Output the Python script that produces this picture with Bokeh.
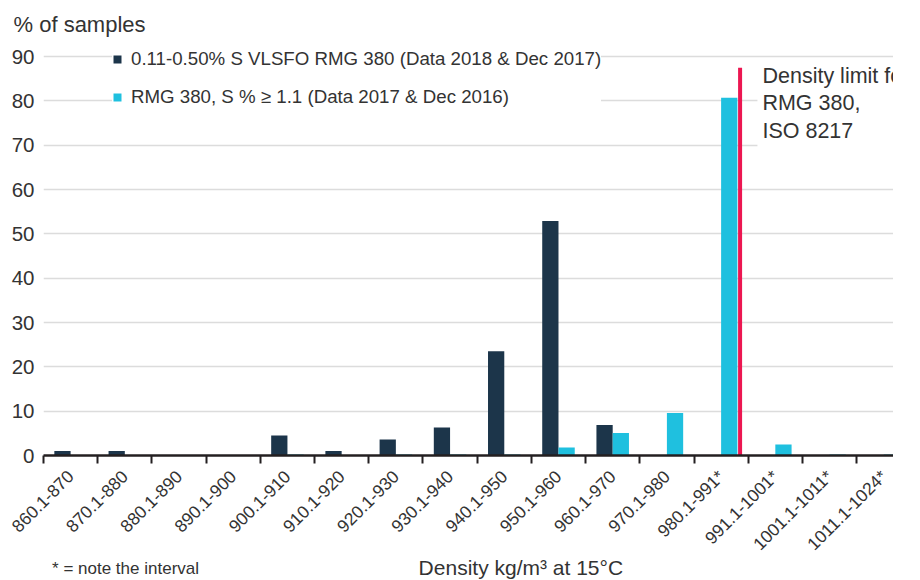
import math
from bokeh.plotting import figure
from bokeh.layouts import column
from bokeh.models import (ColumnDataSource, LinearAxis, FixedTicker, Grid, Label,
                          Legend, LegendItem, Range1d)
from bokeh.transform import dodge
from bokeh.embed import file_html
from bokeh.resources import INLINE

# ---------------- data ----------------
categories = ["860.1-870", "870.1-880", "880.1-890", "890.1-900", "900.1-910",
              "910.1-920", "920.1-930", "930.1-940", "940.1-950", "950.1-960",
              "960.1-970", "970.1-980", "980.1-991*", "991.1-1001*",
              "1001.1-1011*", "1011.1-1024*"]
vlsfo = [1.0, 1.0, 0.0, 0.0, 4.5, 1.0, 3.6, 6.3, 23.5, 52.9, 6.9, 0.0, 0.0, 0.0, 0.0, 0.0]
rmg380 = [0.0, 0.0, 0.0, 0.0, 0.2, 0.0, 0.2, 0.2, 0.2, 1.8, 5.1, 9.6, 80.7, 2.5, 0.2, 0.2]
y_ticks = [0, 10, 20, 30, 40, 50, 60, 70, 80, 90]
series_names = ["0.11-0.50% S VLSFO RMG 380 (Data 2018 & Dec 2017)",
                "RMG 380, S % \u2265 1.1 (Data 2017 & Dec 2016)"]
limit_category = "980.1-991*"
limit_value = 87.5
limit_text = "Density limit for\nRMG 380,\nISO 8217"
y_title = "% of samples"
x_title = "Density kg/m\u00b3 at 15\u00b0C"
footnote = "* = note the interval"

# ---------------- style ----------------
DARK = "#1c354a"
CYAN = "#1fc0df"
RED = "#ec1651"
TXT = "#333333"
FONT = "Liberation Sans"

centers = [i + 0.5 for i in range(len(categories))]
bounds = list(range(len(categories) + 1))

p = figure(width=893, height=570, output_backend="svg", toolbar_location=None,
           x_range=Range1d(0, 15.68), y_range=Range1d(0, 92.5),
           x_axis_type=None, y_axis_type=None,
           min_border_left=43, min_border_right=0, min_border_top=45,
           min_border_bottom=115)
p.outline_line_color = None
p.background_fill_color = "white"
p.border_fill_color = "white"

p.title.text = y_title
p.title.align = "left"
p.title.offset = -30
p.title.standoff = 18
p.title.text_font = FONT
p.title.text_font_size = "22px"
p.title.text_font_style = "normal"
p.title.text_color = TXT

# y axis
yaxis = LinearAxis(ticker=FixedTicker(ticks=y_ticks))
yaxis.axis_line_color = None
yaxis.major_tick_line_color = None
yaxis.minor_tick_line_color = None
yaxis.major_tick_out = 0
yaxis.major_tick_in = 0
yaxis.major_label_standoff = 9
yaxis.major_label_text_font = FONT
yaxis.major_label_text_font_size = "20.5px"
yaxis.major_label_text_color = TXT
p.add_layout(yaxis, "left")
p.add_layout(Grid(dimension=1, ticker=yaxis.ticker, grid_line_color="#dcdcdc",
                  grid_line_width=1.5))

# x axis: labels at centres, tick marks at boundaries
xaxis = LinearAxis(ticker=FixedTicker(ticks=centers, minor_ticks=bounds),
                   major_label_overrides={c: lab for c, lab in zip(centers, categories)})
xaxis.axis_line_color = "#231f20"
xaxis.axis_line_width = 2.5
xaxis.major_tick_line_color = None
xaxis.major_tick_out = 0
xaxis.major_tick_in = 0
xaxis.minor_tick_line_color = "#231f20"
xaxis.minor_tick_line_width = 2
xaxis.minor_tick_out = 8
xaxis.minor_tick_in = 0
xaxis.major_label_orientation = math.pi / 4
xaxis.major_label_standoff = 10
xaxis.major_label_text_font = FONT
xaxis.major_label_text_font_size = "17.5px"
xaxis.major_label_text_color = TXT
p.add_layout(xaxis, "below")

src = ColumnDataSource(dict(x=centers, cat=categories, vlsfo=vlsfo, rmg=rmg380))
r1 = p.vbar(x=dodge("x", -0.15), top="vlsfo", width=0.3, source=src,
            fill_color=DARK, line_color=None)
r2 = p.vbar(x=dodge("x", 0.15), top="rmg", width=0.3, source=src,
            fill_color=CYAN, line_color=None)

lim_src = ColumnDataSource(dict(x=[centers[categories.index(limit_category)]],
                                top=[limit_value]))
p.segment(x0=dodge("x", 0.35), y0=0, x1=dodge("x", 0.35), y1="top",
          source=lim_src, line_color=RED, line_width=4)

legend = Legend(items=[LegendItem(label=series_names[0], renderers=[r1]),
                       LegendItem(label=series_names[1], renderers=[r2])],
                location=(69, 347), orientation="vertical")
legend.border_line_color = None
legend.background_fill_color = "white"
legend.background_fill_alpha = 1
legend.padding = 8
legend.margin = 0
legend.spacing = 16
legend.glyph_width = 10
legend.glyph_height = 10
legend.label_height = 20
legend.label_standoff = 9
legend.label_text_font = FONT
legend.label_text_font_size = "18.7px"
legend.label_text_color = TXT
p.add_layout(legend)

p.add_layout(Label(x=13.17, y=89.5, text=limit_text, text_baseline="top",
                   text_align="left", text_font=FONT, text_font_size="21.5px",
                   text_color=TXT, text_line_height=1.15,
                   background_fill_color="white", padding=5))

# bottom strip with the axis title and the footnote; it overlaps the empty
# bottom edge of the main figure (its canvas is 38 px tall, from y=556)
strip = figure(width=893, height=24, output_backend="svg", toolbar_location=None,
               title=None, x_range=Range1d(0, 893), y_range=Range1d(0, 38),
               x_axis_type=None, y_axis_type=None,
               min_border_left=0, min_border_right=0, min_border_top=0,
               min_border_bottom=0, margin=(-14, 0, 0, 0))
strip.outline_line_color = None
strip.background_fill_alpha = 0
strip.border_fill_alpha = 0
strip.add_layout(Label(x=501.5, y=21, text=x_title, text_baseline="alphabetic",
                       text_align="center", text_font=FONT, text_font_size="21px",
                       text_color=TXT))
strip.add_layout(Label(x=9, y=19.5, text=footnote, text_baseline="alphabetic",
                       text_align="left", text_font=FONT, text_font_size="17px",
                       text_color=TXT))

layout = column(p, strip, spacing=0)
open("out.html", "w").write(file_html(layout, INLINE))
